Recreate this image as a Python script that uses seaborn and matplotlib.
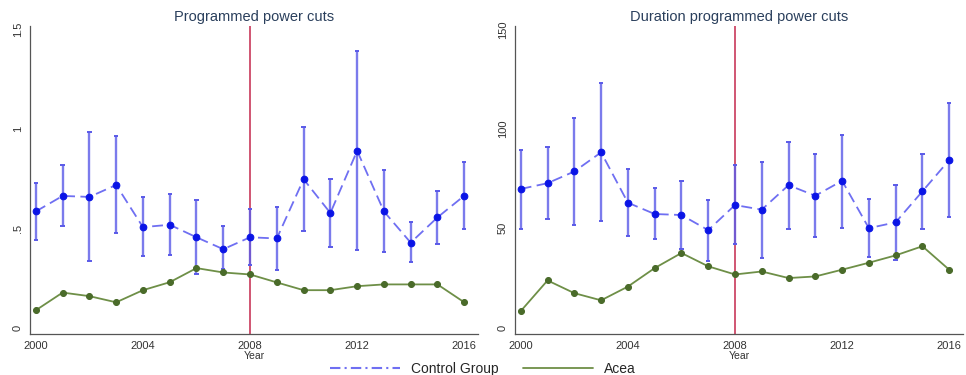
import numpy as np
import pandas as pd
import seaborn as sns
import matplotlib.pyplot as plt

# Data
years = list(range(2000, 2017))

# Programmed power cuts (number)
cuts_control = [0.585, 0.663, 0.658, 0.718, 0.506, 0.518, 0.455, 0.395, 0.455,
                0.449, 0.747, 0.577, 0.890, 0.585, 0.428, 0.555, 0.664]
cuts_control_hi = [0.728, 0.818, 0.985, 0.965, 0.656, 0.675, 0.642, 0.513, 0.599,
                   0.607, 1.008, 0.750, 1.393, 0.791, 0.531, 0.688, 0.836]
cuts_control_lo = [0.442, 0.513, 0.334, 0.479, 0.363, 0.366, 0.271, 0.295, 0.314,
                   0.290, 0.489, 0.406, 0.393, 0.383, 0.329, 0.420, 0.497]
cuts_acea = [0.088, 0.177, 0.159, 0.128, 0.189, 0.229, 0.300, 0.278, 0.268,
             0.228, 0.189, 0.189, 0.209, 0.218, 0.218, 0.218, 0.128]

# Duration of programmed power cuts
dur_control = [69.8, 72.7, 78.6, 88.2, 62.9, 57.2, 56.7, 49.1, 61.7,
               59.4, 71.7, 66.4, 73.9, 50.1, 53.0, 68.6, 84.3]
dur_control_hi = [89.5, 90.7, 105.6, 123.3, 79.9, 70.2, 73.9, 64.1, 81.8,
                  83.6, 93.4, 87.4, 97.1, 64.8, 72.0, 87.5, 113.0]
dur_control_lo = [49.9, 54.8, 51.8, 53.5, 45.9, 44.5, 39.6, 33.7, 42.2,
                  35.2, 49.9, 45.7, 50.4, 35.6, 33.9, 49.7, 55.8]
dur_acea = [8.4, 23.8, 17.4, 13.8, 20.7, 30.0, 37.6, 30.9, 26.8,
            28.3, 25.0, 25.8, 29.2, 32.7, 36.4, 41.0, 29.2]

xticks = [2000, 2004, 2008, 2012, 2016]
cut_year = 2008

sns.set_style("white")
plt.rcParams['font.family'] = ['Liberation Sans', 'DejaVu Sans']

title_col = "#2a3f5c"
ctrl_marker = "#0a14e6"
ctrl_line = "#6f6ff2"
err_col = "#5a5ae8"
acea_marker = "#4a6b2a"
acea_line = "#6e8f47"
red_col = "#c8385a"

fig = plt.figure(figsize=(9.66, 3.75), dpi=100)
ax1 = fig.add_axes([0.031, 0.109, 0.464, 0.823])
ax2 = fig.add_axes([0.533, 0.109, 0.464, 0.823])

panels = [
    (ax1, "Programmed power cuts", cuts_control, cuts_control_lo, cuts_control_hi,
     cuts_acea, [0, 0.5, 1, 1.5], ["0", ".5", "1", "1.5"], (-0.032, 1.52)),
    (ax2, "Duration programmed power cuts", dur_control, dur_control_lo, dur_control_hi,
     dur_acea, [0, 50, 100, 150], ["0", "50", "100", "150"], (-3.2, 152)),
]

for ax, title, ctrl, lo, hi, acea, yt, ytl, ylim in panels:
    df = pd.DataFrame({"Year": years, "ctrl": ctrl, "lo": lo, "hi": hi, "acea": acea})
    ax.axvline(cut_year, color=red_col, lw=1.2, zorder=1)
    ax.vlines(df["Year"], df["lo"], df["hi"], color=err_col, lw=1.7, alpha=0.8, zorder=2)
    ax.hlines(df["lo"], df["Year"] - 0.08, df["Year"] + 0.08, color=err_col, lw=1.4, zorder=2)
    ax.hlines(df["hi"], df["Year"] - 0.08, df["Year"] + 0.08, color=err_col, lw=1.4, zorder=2)
    sns.lineplot(data=df, x="Year", y="acea", ax=ax, color=acea_line, lw=1.3,
                 marker="o", markersize=4.3, markerfacecolor=acea_marker,
                 markeredgecolor=acea_marker, zorder=3)
    sns.lineplot(data=df, x="Year", y="ctrl", ax=ax, color=ctrl_line, lw=1.3,
                 dashes=(6, 3), marker="o", markersize=4.8, markerfacecolor=ctrl_marker,
                 markeredgecolor=ctrl_marker, zorder=4)
    ax.set_xlim(1999.78, 2016.52)
    ax.set_ylim(*ylim)
    ax.set_xticks(xticks)
    ax.set_xticklabels([str(t) for t in xticks], fontsize=8, color="#333333")
    ax.set_yticks(yt)
    ax.set_yticklabels(ytl, fontsize=8, color="#333333", rotation=90, va="center")
    ax.set_xlabel("Year", fontsize=7.5, color="#333333", labelpad=0)
    ax.set_ylabel("")
    ax.set_title(title, fontsize=10.5, color=title_col, pad=3)
    ax.tick_params(axis="both", direction="out", length=3, width=0.8, color="#555555", pad=2)
    sns.despine(ax=ax)
    for s in ["left", "bottom"]:
        ax.spines[s].set_color("#555555")
        ax.spines[s].set_linewidth(0.9)

handles = [
    plt.Line2D([], [], color=ctrl_line, lw=1.5, dashes=(5, 2, 1, 2)),
    plt.Line2D([], [], color=acea_line, lw=1.3),
]
fig.legend(handles, ["Control Group", "Acea"], loc="lower center", ncol=2,
           bbox_to_anchor=(0.5, -0.035), frameon=False, fontsize=10,
           handlelength=5, columnspacing=1.8)

fig.savefig("out.png", dpi=100)
